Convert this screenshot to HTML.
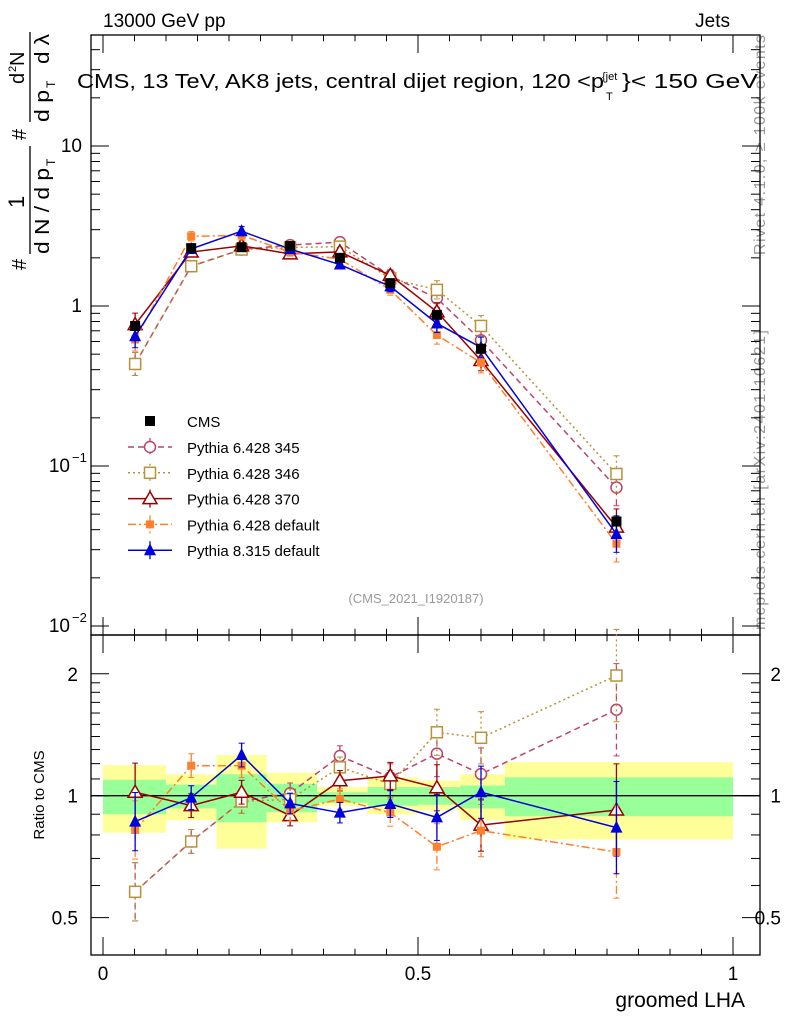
<!DOCTYPE html>
<html><head><meta charset="utf-8"><style>
body{margin:0;background:#fff;}
svg{display:block;font-family:"Liberation Sans",sans-serif;}
</style></head><body>
<svg id="c" width="786" height="1024" xmlns="http://www.w3.org/2000/svg"></svg>
<script>
const xCenters=[0.051,0.14,0.22,0.297,0.376,0.456,0.53,0.60,0.815];
const binEdges=[0,0.1,0.18,0.26,0.34,0.42,0.5,0.567,0.638,1.0];
const cmsValues=[0.75,2.3,2.33,2.37,2.0,1.39,0.88,0.54,0.045];
const cmsErr=[0.05,0.05,0.05,0.05,0.05,0.06,0.06,0.07,0.1];
const bandYellowHi=[1.19,1.13,1.26,1.14,1.05,1.11,1.09,1.13,1.21];
const bandYellowLo=[0.81,0.87,0.74,0.86,0.945,0.9,0.92,0.87,0.78];
const bandGreenHi=[1.095,1.065,1.13,1.07,1.02,1.05,1.05,1.06,1.11];
const bandGreenLo=[0.90,0.93,0.86,0.91,0.96,0.945,0.95,0.93,0.89];
const ratioP345=[0.579,0.771,0.968,1.014,1.253,1.11,1.27,1.131,1.63];
const ratioP346=[0.579,0.771,0.968,0.98,1.175,1.069,1.434,1.39,1.98];
const ratioP370=[1.02,0.945,1.02,0.893,1.089,1.119,1.046,0.846,0.922];
const ratioP6def=[0.823,1.186,1.186,0.917,0.981,0.908,0.748,0.82,0.726];
const ratioP8=[0.863,0.989,1.26,0.957,0.908,0.954,0.884,1.02,0.834];
const relErr=[0.18,0.07,0.07,0.06,0.06,0.08,0.14,0.16,0.3];
const seriesNames=["Pythia 6.428 345","Pythia 6.428 346","Pythia 6.428 370","Pythia 6.428 default","Pythia 8.315 default"];

const S=document.getElementById('c');const NS='http://www.w3.org/2000/svg';
function el(t,a,p){const e=document.createElementNS(NS,t);for(const k in a)e.setAttribute(k,a[k]);(p||S).appendChild(e);return e;}
function tx(x,y,s,sz,anchor,fill,name,extra,parent){const e=el('text',Object.assign({x:x,y:y,'font-size':sz,'text-anchor':anchor||'start',fill:fill||'#000'},extra||{}),parent);e.textContent=s;


return e;}
const L=91,R=760,T=35,M=635,B=955;
const X=v=>103+v*630;
const Y=v=>306-160*Math.log10(v);
const YR=v=>795.7-405*Math.log10(v);

const bands=el('g',{});


for(let i=0;i<9;i++){
 el('rect',{x:X(binEdges[i]),y:YR(bandYellowHi[i]),width:X(binEdges[i+1])-X(binEdges[i]),height:YR(bandYellowLo[i])-YR(bandYellowHi[i]),fill:'#ffff99'},bands);
 el('rect',{x:X(binEdges[i]),y:YR(bandGreenHi[i]),width:X(binEdges[i+1])-X(binEdges[i]),height:YR(bandGreenLo[i])-YR(bandGreenHi[i]),fill:'#99ff99'},bands);
}
el('line',{x1:L,x2:R,y1:YR(1),y2:YR(1),stroke:'#000','stroke-width':1.3});

// side labels (under frame)
tx(765,145,'Rivet 4.1.0, ≥ 100k events',16,'middle','#999','rivet-label',{transform:'rotate(-90 765 145)',textLength:220});
tx(765,480,'mcplots.cern.ch [arXiv:2401.10621]',16,'middle','#999','mcplots-label',{transform:'rotate(-90 765 480)',textLength:300});

el('rect',{x:L,y:T,width:R-L,height:M-T,fill:'none',stroke:'#000','stroke-width':1.3});
el('rect',{x:L,y:M,width:R-L,height:B-M,fill:'none',stroke:'#000','stroke-width':1.3});

for(let k=0;k<=20;k++){const v=k*0.05;const x=X(v);const maj=k%10==0;const len=maj?18:9;
 for(const [y0,d] of [[T,1],[M,-1],[M,1],[B,-1]]) el('line',{x1:x,x2:x,y1:y0,y2:y0+d*(maj?len:len*0.7),stroke:'#000','stroke-width':1});}
[0,0.5,1].forEach((v,i)=>tx(X(v),980,['0','0.5','1'][i],19,'middle','#000','x-tick-label'));
tx(745,1007,'groomed LHA',21,'end','#000','x-axis-title');

for(let d=-2;d<=1;d++){for(let m=1;m<10;m++){const v=m*Math.pow(10,d);const y=Y(v);if(y<T||y>M)continue;const len=m==1?18:9;
 el('line',{x1:L,x2:L+len,y1:y,y2:y,stroke:'#000'});el('line',{x1:R,x2:R-len,y1:y,y2:y,stroke:'#000'});}}
tx(82,152,'10',19,'end','#000','y-tick-10');
tx(82,312,'1',19,'end','#000','y-tick-1');
tx(70,472,'10',19,'end','#000','y-tick-0.1');tx(72,462,'−1',13,'start','#000','y-tick-exp');
tx(70,632,'10',19,'end','#000','y-tick-0.01');tx(72,622,'−2',13,'start','#000','y-tick-exp');

[0.5,0.6,0.7,0.8,0.9,1,2].forEach(v=>{const y=YR(v);const len=(v==1||v==2||v==0.5)?18:9;
 el('line',{x1:L,x2:L+len,y1:y,y2:y,stroke:'#000'});el('line',{x1:R,x2:R-len,y1:y,y2:y,stroke:'#000'});});
[1.1,1.2,1.3,1.4,1.5,1.6,1.7,1.8,1.9].forEach(v=>{const y=YR(v);el('line',{x1:L,x2:L+9,y1:y,y2:y,stroke:'#000'});el('line',{x1:R,x2:R-9,y1:y,y2:y,stroke:'#000'});});
[[2,'2'],[1,'1'],[0.5,'0.5']].forEach(([v,s])=>{tx(78,YR(v)+7,s,19,'end','#000','ratio-tick-left');tx(781,YR(v)+7,s,19,'end','#000','ratio-tick-right');});
tx(44,795,'Ratio to CMS',15,'middle','#000','ratio-y-title',{transform:'rotate(-90 44 795)'});

tx(103,27,'13000 GeV pp',19,'start','#000','beam-label');
tx(730,27,'Jets',19,'end','#000','process-label');
tx(77,88,'CMS, 13 TeV, AK8 jets, central dijet region, 120 <p',20,'start','#000','plot-title',{textLength:527,lengthAdjust:'spacingAndGlyphs'});
tx(602,80,'{jet',11,'start','#000','title-sup');tx(606,100,'T',11,'start','#000','title-sub');
tx(622,88,'}< 150 GeV',20,'start','#000','plot-title-end',{textLength:136,lengthAdjust:'spacingAndGlyphs'});
tx(416,603,'(CMS_2021_I1920187)',13,'middle','#999','analysis-id');

// y title: local a = upward distance, b = rightward
const yt=el('g',{transform:'translate(30,270) rotate(-90)'});


function yts(a,b,s,sz,len){const at={x:a,y:b,'font-size':sz};if(len){at.textLength=len;at.lengthAdjust='spacingAndGlyphs';}const e=el('text',at,yt);e.textContent=s;}
yts(0,-4,'#',20);
yts(62,-6,'1',22);
el('line',{x1:16,x2:124,y1:0,y2:0,stroke:'#000','stroke-width':1.3},yt);
yts(16,19,'d N / d p',20,86);yts(104,25,'T',12);
yts(130,-4,'#',20);
yts(186,-6,'d',20);yts(198,-14,'2',11);yts(204,-6,'N',20);
el('line',{x1:148,x2:238,y1:0,y2:0,stroke:'#000','stroke-width':1.3},yt);
yts(148,19,'d p',20,32);yts(182,25,'T',12);yts(206,19,'d λ',20,30);

const styles=[
 {r:ratioP345,c:'#bb4466',dash:'6,4',m:'circle'},
 {r:ratioP346,c:'#b8913a',dash:'2,3',m:'square'},
 {r:ratioP370,c:'#990000',dash:'',m:'triangle'},
 {r:ratioP6def,c:'#ff7f2a',dash:'8,3,2,3',m:'fsquare'},
 {r:ratioP8,c:'#0000dd',dash:'',m:'ftriangle'}];
function marker(g,m,x,y,c){
 if(m=='circle')el('circle',{cx:x,cy:y,r:5.5,fill:'#fff',stroke:c,'stroke-width':1.5},g);
 else if(m=='square')el('rect',{x:x-5.5,y:y-5.5,width:11,height:11,fill:'#fff',stroke:c,'stroke-width':1.5},g);
 else if(m=='fsquare')el('rect',{x:x-4,y:y-4,width:8,height:8,fill:c},g);
 else if(m=='triangle')el('path',{d:`M${x},${y-7}L${x+7},${y+5}L${x-7},${y+5}Z`,fill:'#fff',stroke:c,'stroke-width':1.5},g);
 else if(m=='ftriangle')el('path',{d:`M${x},${y-7}L${x+6},${y+5}L${x-6},${y+5}Z`,fill:c},g);
 else if(m=='cms')el('rect',{x:x-5,y:y-5,width:10,height:10,fill:'#000'},g);
}
styles.forEach((s,si)=>{
 const g=el('g',{});
 
 
 const main=s.r.map((r,i)=>r*cmsValues[i]);
 for(const [fy,arr] of [[Y,main],[YR,s.r]]){
  el('polyline',{points:arr.map((v,i)=>X(xCenters[i])+','+fy(v)).join(' '),fill:'none',stroke:s.c,'stroke-width':1.5,'stroke-dasharray':s.dash},g);
  arr.forEach((v,i)=>{const x=X(xCenters[i]);const e=relErr[i];
   el('line',{x1:x,x2:x,y1:fy(v*(1+e)),y2:fy(v/(1+e)),stroke:s.c,'stroke-width':1.3,'stroke-dasharray':s.dash},g);
   el('line',{x1:x-3,x2:x+3,y1:fy(v*(1+e)),y2:fy(v*(1+e)),stroke:s.c},g);
   el('line',{x1:x-3,x2:x+3,y1:fy(v/(1+e)),y2:fy(v/(1+e)),stroke:s.c},g);
   marker(g,s.m,x,fy(v),s.c);});
 }
 const ly=447+si*25.8;
 el('line',{x1:128,x2:172,y1:ly,y2:ly,stroke:s.c,'stroke-width':1.5,'stroke-dasharray':s.dash},g);
 el('line',{x1:150,x2:150,y1:ly-9,y2:ly+9,stroke:s.c,'stroke-width':1.3,'stroke-dasharray':s.dash},g);
 marker(g,s.m,150,ly,s.c);
 tx(187,ly+6,seriesNames[si],15,'start','#000','legend-entry',null,g);
});
const cg=el('g',{});


cmsValues.forEach((v,i)=>{const x=X(xCenters[i]);const e=cmsErr[i];
 el('line',{x1:x,x2:x,y1:Y(v*(1+e)),y2:Y(v/(1+e)),stroke:'#000','stroke-width':1.3},cg);
 marker(cg,'cms',x,Y(v),'#000');});
marker(cg,'cms',150,421,'#000');
tx(187,427,'CMS',15,'start','#000','legend-entry-cms',null,cg);
</script>
</body></html>
